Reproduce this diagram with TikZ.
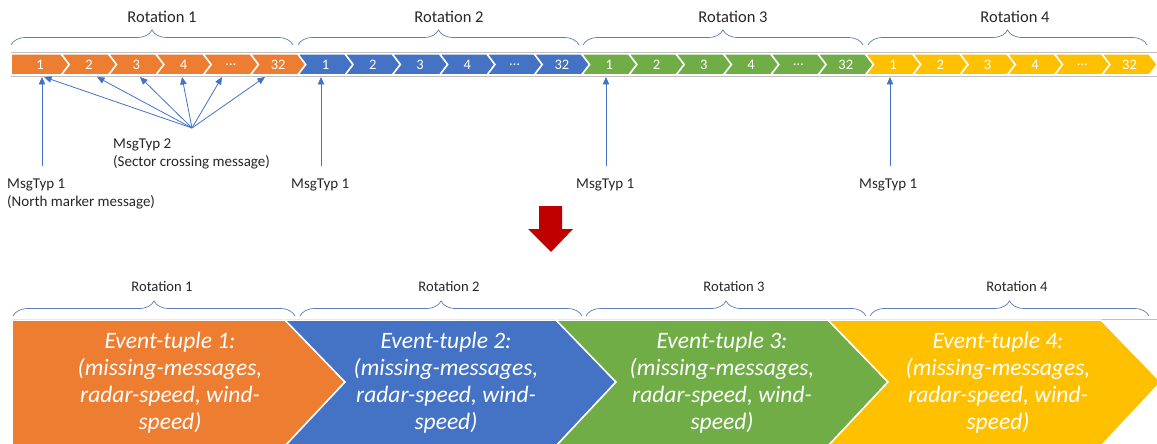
\documentclass[tikz,border=0pt]{standalone}
\usepackage{fontspec}
\setmainfont{Carlito}
\usetikzlibrary{decorations.pathreplacing,arrows.meta}
\definecolor{cO}{HTML}{ED7D31}
\definecolor{cB}{HTML}{4472C4}
\definecolor{cG}{HTML}{70AD47}
\definecolor{cY}{HTML}{FFC000}
\definecolor{cR}{HTML}{C00000}
\definecolor{brc}{HTML}{5B7DB8}
\definecolor{txt}{HTML}{262626}
\definecolor{frm}{HTML}{BFBFBF}
\begin{document}
\begin{tikzpicture}[x=1pt,y=-1pt,
  numlab/.style={text=white,font=\fontsize{14.5}{16}\selectfont,inner sep=0pt},
  rotlab/.style={text=txt,font=\fontsize{16.5}{19}\selectfont,inner sep=0pt},
  rotlabb/.style={text=txt,font=\fontsize{14.6}{17}\selectfont,inner sep=0pt},
  msglab/.style={text=txt,font=\fontsize{15}{17.5}\selectfont,align=left,anchor=north west,inner sep=0pt},
  evlab/.style={text=white,font=\fontsize{23.5}{27}\selectfont\itshape,align=center,inner sep=0pt},
  bracedec/.style={draw=brc,line width=0.7pt,decorate,decoration={brace,amplitude=15pt}},
  ptr/.style={draw=cB,line width=0.8pt,-{Triangle[width=6.5pt,length=7.5pt]}},
  chev/.style={draw=white,line width=1.5pt,line join=miter},
]
\useasboundingbox (0,0) rectangle (1157,444);
% ---- top strip ----
\draw[frm,line width=0.8pt] (11,52.5) rectangle (1165,76.5);
\foreach \r/\col in {0/cO,1/cB,2/cG,3/cY}{
  \foreach \j/\lab in {0/1,1/2,2/3,3/4,4/{…},5/32}{
    \pgfmathtruncatemacro\k{\r*6+\j}
    \pgfmathsetmacro\xa{ifthenelse(\k==0,11,14+47.3*\k)}
    \pgfmathsetmacro\dn{ifthenelse(\k==0,0,8)}
    \pgfmathsetmacro\xb{14+47.3*(\k+1)}
    \pgfmathsetmacro\xc{(\xa+\xb)/2+4}
    \filldraw[chev,fill=\col] (\xa,54) -- (\xb,54) -- (\xb+8,64.5) -- (\xb,75) -- (\xa,75) -- (\xa+\dn,64.5) -- cycle;
    \node[numlab] (n\k) at (\xc,64.5) {\lab};
  }
}
% top braces
\draw[bracedec] (11,45) -- (293,45);
\draw[bracedec] (298,45) -- (579,45);
\draw[bracedec] (583,45) -- (863,45);
\draw[bracedec] (868,45) -- (1147,45);
\node[rotlab] (r1) at (162,17) {Rotation 1};
\node[rotlab] (r2) at (449,17) {Rotation 2};
\node[rotlab] (r3) at (733,17) {Rotation 3};
\node[rotlab] (r4) at (1015,17) {Rotation 4};
% message labels
\node[msglab] (m1) at (7,179) {MsgTyp 1\\(North marker message)};
\node[msglab] (m2) at (113,139) {MsgTyp 2\\(Sector crossing message)};
\node[msglab] (m3) at (291,179) {MsgTyp 1};
\node[msglab] (m4) at (576,179) {MsgTyp 1};
\node[msglab] (m5) at (859,179) {MsgTyp 1};
% arrows
\coordinate (s1) at (42,166);
\coordinate (s2) at (321,166);
\coordinate (s3) at (606,166);
\coordinate (s4) at (890,166);
\coordinate (t1) at (42,77);
\coordinate (t2) at (321,77);
\coordinate (t3) at (606,77);
\coordinate (t4) at (890,77);
\foreach \i in {1,2,3,4} \draw[ptr] (s\i) -- (t\i);
\coordinate (fan) at (192,128);
\foreach \i/\x in {1/44,2/97,3/140,4/182,5/222,6/265}{
  \coordinate (f\i) at (\x,77);
  \draw[ptr] (fan) -- (f\i);
}
% red arrow
\fill[cR] (539,206) -- (562,206) -- (562,229) -- (573,229) -- (551,252) -- (528,229) -- (539,229) -- cycle;
% ---- bottom ----
\draw[frm,line width=0.8pt] (12,319) rectangle (1170,460);
\filldraw[chev,fill=cO] (12,320) -- (285,320) -- (345,382) -- (285,446) -- (12,446) -- cycle;
\filldraw[chev,fill=cB] (285,320) -- (556,320) -- (616,382) -- (556,446) -- (285,446) -- (345,382) -- cycle;
\filldraw[chev,fill=cG] (556,320) -- (828,320) -- (888,382) -- (828,446) -- (556,446) -- (616,382) -- cycle;
\filldraw[chev,fill=cY] (828,320) -- (1101,320) -- (1161,382) -- (1101,446) -- (828,446) -- (888,382) -- cycle;
\node[evlab] (e1) at (170,383) {Event-tuple 1:\\(missing-messages,\\radar-speed, wind-\\speed)};
\node[evlab] (e2) at (446,383) {Event-tuple 2:\\(missing-messages,\\radar-speed, wind-\\speed)};
\node[evlab] (e3) at (722,383) {Event-tuple 3:\\(missing-messages,\\radar-speed, wind-\\speed)};
\node[evlab] (e4) at (998,383) {Event-tuple 4:\\(missing-messages,\\radar-speed, wind-\\speed)};
% bottom braces
\draw[bracedec] (13,316) -- (295,316);
\draw[bracedec] (300,316) -- (582,316);
\draw[bracedec] (586,316) -- (866,316);
\draw[bracedec] (870,316) -- (1149,316);
\node[rotlabb] (b1) at (162,287) {Rotation 1};
\node[rotlabb] (b2) at (449,287) {Rotation 2};
\node[rotlabb] (b3) at (734,287) {Rotation 3};
\node[rotlabb] (b4) at (1017,287) {Rotation 4};
\end{tikzpicture}
\end{document}
